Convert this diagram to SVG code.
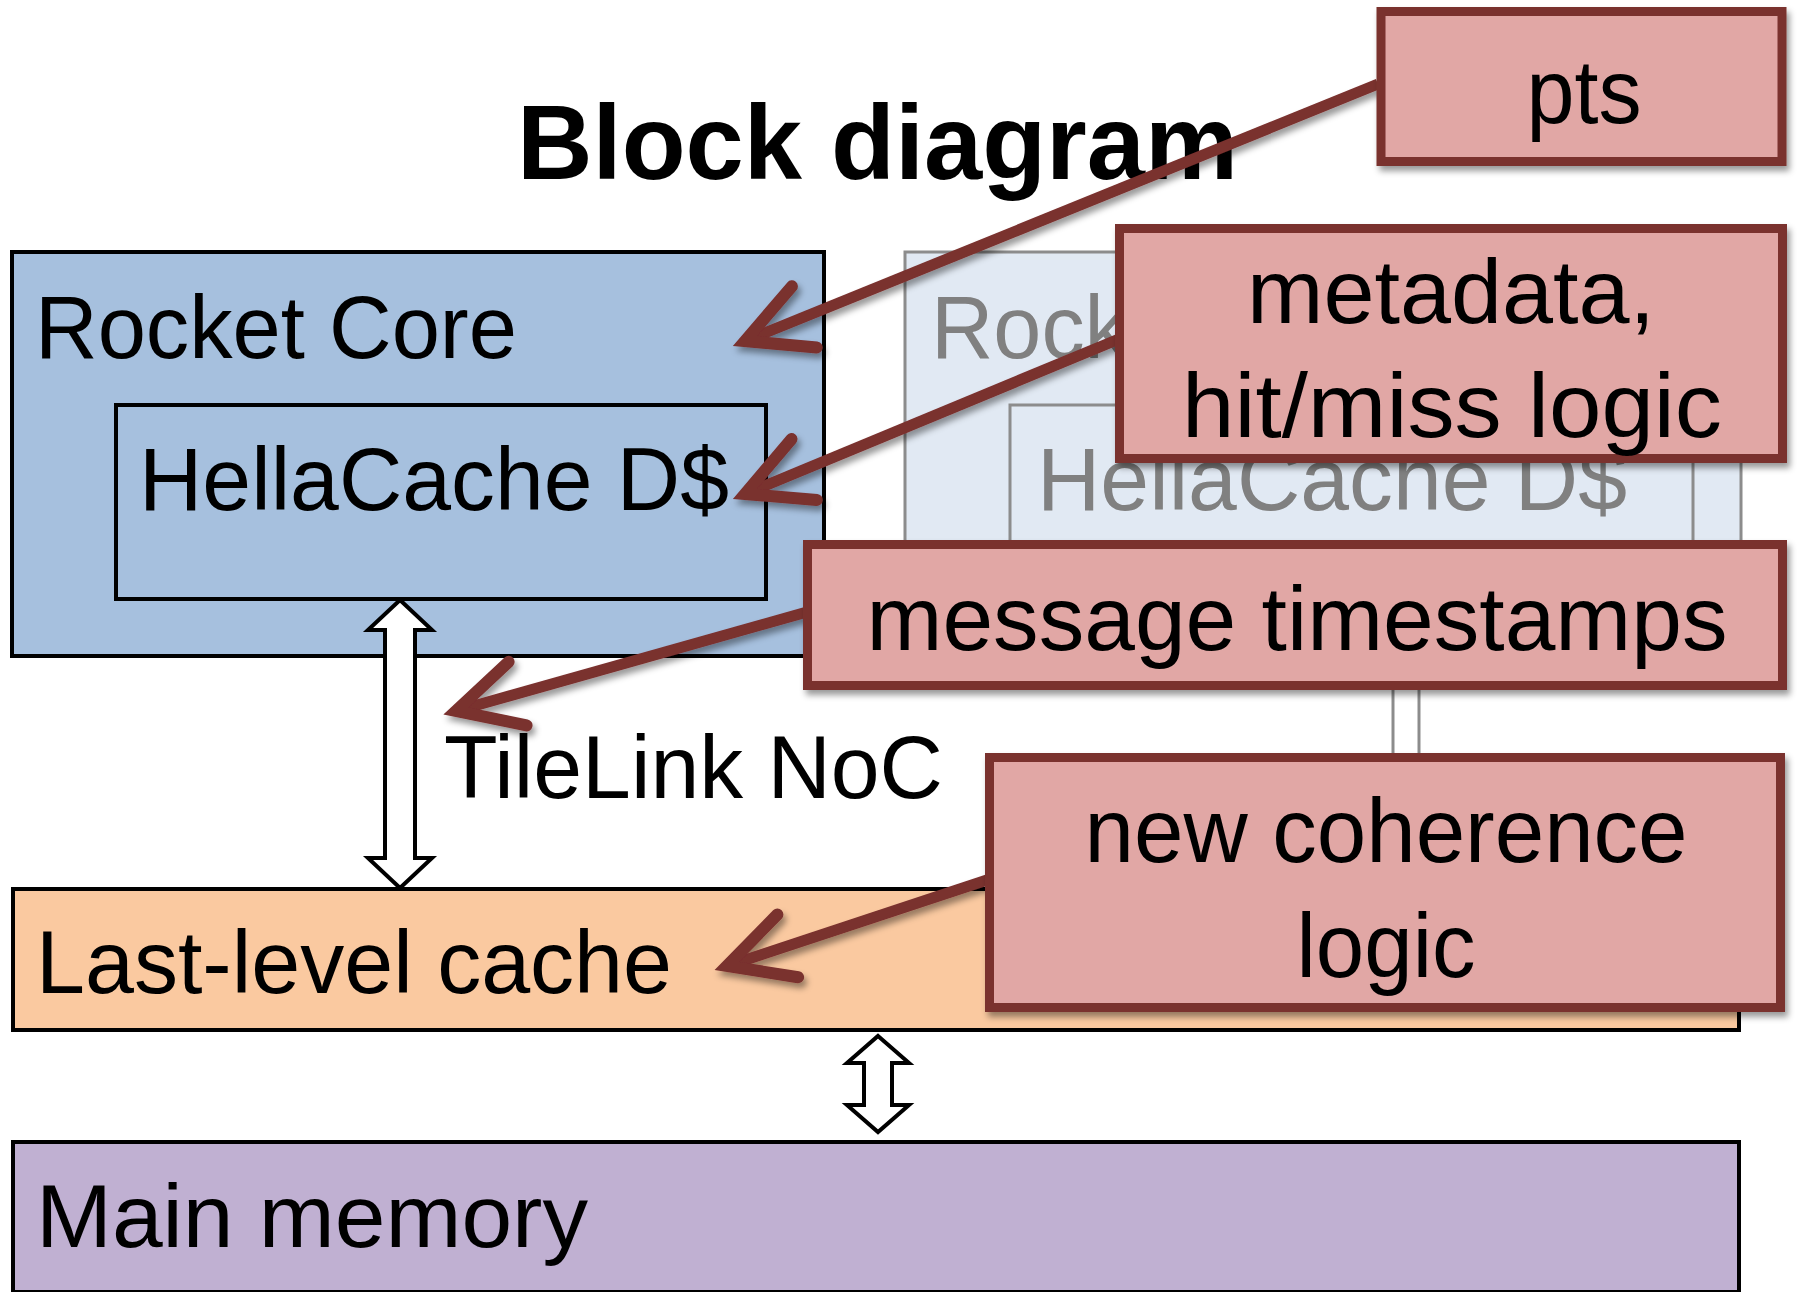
<svg xmlns="http://www.w3.org/2000/svg" width="1800" height="1292" viewBox="0 0 1800 1292">
<defs>
<style>
.t{font-family:"Liberation Sans",Arial,sans-serif;font-size:89px;fill:#000}
.g{fill:#808080}
.a{font-family:"Liberation Sans",Arial,sans-serif;font-size:90px;fill:#000;text-anchor:middle}
.box{stroke:#000;stroke-width:4}
.ghost{fill:#E1E9F3;stroke:#8C8C8C;stroke-width:3}
.note{fill:#E1A7A5;stroke:#7A302E;stroke-width:9}
.barrow{fill:#fff;stroke:#000;stroke-width:4;stroke-linejoin:miter}
.link{fill:none;stroke:#7A302E;stroke-width:11}
</style>
<filter id="sh" x="-10%" y="-10%" width="130%" height="140%">
<feDropShadow dx="3" dy="5" stdDeviation="3" flood-color="#000" flood-opacity="0.4"/>
</filter>
<marker id="ah" markerUnits="userSpaceOnUse" orient="auto" overflow="visible" markerWidth="1" markerHeight="1" refX="0" refY="0">
<path d="M-64,-33 L0,0 L-64,33" fill="none" stroke="#7A302E" stroke-width="12" stroke-linecap="round" stroke-linejoin="miter"/>
</marker>
</defs>
<rect width="1800" height="1292" fill="#fff"/>

<g id="ghost-core">
<rect class="ghost" x="905" y="252" width="836" height="404"/>
<text class="t g" x="931" y="358" textLength="480" lengthAdjust="spacingAndGlyphs">Rocket Core</text>
<rect class="ghost" x="1010" y="405" width="683" height="194"/>
<text class="t g" x="1037" y="510" textLength="590" lengthAdjust="spacingAndGlyphs">HellaCache D$</text>
<line x1="1393" y1="680" x2="1393" y2="760" stroke="#8C8C8C" stroke-width="3"/>
<line x1="1419" y1="680" x2="1419" y2="760" stroke="#8C8C8C" stroke-width="3"/>
</g>

<g id="rocket-core">
<rect class="box" x="12" y="252" width="812" height="404" fill="#A6C0DE"/>
<text class="t" x="35" y="358" textLength="482" lengthAdjust="spacingAndGlyphs">Rocket Core</text>
</g>

<g id="hellacache">
<rect class="box" x="116" y="405" width="650" height="194" fill="#A6C0DE"/>
<text class="t" x="139" y="510" textLength="590" lengthAdjust="spacingAndGlyphs">HellaCache D$</text>
</g>

<g id="llc">
<rect class="box" x="13" y="889" width="1726" height="141" fill="#FAC9A0"/>
<text class="t" x="36" y="993" textLength="636" lengthAdjust="spacingAndGlyphs">Last-level cache</text>
</g>

<g id="main-memory">
<rect class="box" x="13" y="1142" width="1726" height="150" fill="#C0B0D2"/>
<text class="t" x="36" y="1247" textLength="552" lengthAdjust="spacingAndGlyphs">Main memory</text>
</g>

<g id="title">
<text x="517" y="179" font-family="'Liberation Sans',Arial,sans-serif" font-weight="bold" font-size="106" textLength="721" lengthAdjust="spacingAndGlyphs">Block diagram</text>
</g>

<g id="tilelink-label">
<text class="t" x="444" y="798" textLength="499" lengthAdjust="spacingAndGlyphs">TileLink NoC</text>
</g>

<g id="connectors">
<path class="barrow" d="M400,600 L432,630 L415,630 L415,858 L432,858 L400,888 L368,858 L385,858 L385,630 L368,630 Z"/>
<path class="barrow" d="M878,1036 L909,1063 L892,1063 L892,1105 L909,1105 L878,1132 L847,1105 L864,1105 L864,1063 L847,1063 Z"/>
<g filter="url(#sh)">
<path class="link" d="M1378,84 L745,341" marker-end="url(#ah)"/>
<path class="link" d="M1119,339 L745,494" marker-end="url(#ah)"/>
<path class="link" d="M807,612 L456,711" marker-end="url(#ah)"/>
<path class="link" d="M987,880 L727,966" marker-end="url(#ah)"/>
</g>
</g>

<g id="note-pts" filter="url(#sh)">
<rect class="note" x="1381" y="11.5" width="401" height="150"/>
<text class="a" x="1584" y="123" textLength="115" lengthAdjust="spacingAndGlyphs">pts</text>
</g>

<g id="note-metadata" filter="url(#sh)">
<rect class="note" x="1119.5" y="228.5" width="663" height="230"/>
<text class="a" x="1451" y="323" textLength="408" lengthAdjust="spacingAndGlyphs">metadata,</text>
<text class="a" x="1452" y="437" textLength="540" lengthAdjust="spacingAndGlyphs">hit/miss logic</text>
</g>

<g id="note-timestamps" filter="url(#sh)">
<rect class="note" x="807.5" y="544.5" width="975" height="141"/>
<text class="a" x="1297" y="650" textLength="861" lengthAdjust="spacingAndGlyphs">message timestamps</text>
</g>

<g id="note-coherence" filter="url(#sh)">
<rect class="note" x="989.5" y="757.5" width="791" height="250"/>
<text class="a" x="1386" y="862" textLength="603" lengthAdjust="spacingAndGlyphs">new coherence</text>
<text class="a" x="1386" y="977" textLength="179" lengthAdjust="spacingAndGlyphs">logic</text>
</g>
</svg>
